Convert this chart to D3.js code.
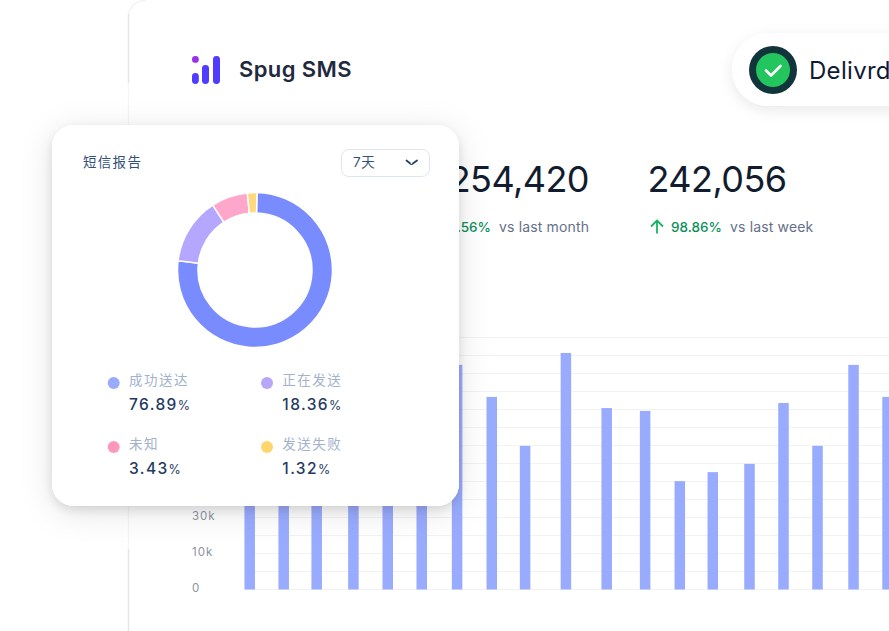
<!DOCTYPE html>
<html><head><meta charset="utf-8">
<script src="https://cdn.jsdelivr.net/npm/d3@7"></script>
<style>html,body{margin:0;padding:0;background:#fff;overflow:hidden}svg{display:block}
text{font-family:Inter,"Noto Sans CJK SC",sans-serif}</style></head>
<body><svg id="c" width="889" height="631"></svg>
<script>
// Bar series (the ones behind the card are estimates)
const barDays = [0,1,1.97,3.05,4.06,5.06,6.1,7.12,8.1,9.3,10.5,11.63,12.65,13.62,14.7,15.7,16.7,17.76,18.76];
const barValues = [48000,53500,39900,62400,50400,49600,62400,53500,39900,65700,50400,49600,30100,32600,34900,51800,39900,62400,53500];
const gridValues = d3.range(0,75000,5000);
const tickValues = [0,10000,20000];
const tickLabels = ["0","10k","30k"];
// Donut
const donutNames = ["成功送达","正在发送","未知","发送失败"];
const donutValues = [76.5,13.9,7.6,2];
const legendValues = ["76.89","18.36","3.43","1.32"];
const donutColors = ["#788bff","#b5a6ff","#ffa6cb","#ffd97d"];
const dotColors = ["#99abff","#b8a6fb","#ff97bd","#ffd56e"];

const svg = d3.select("#c");
const defs = svg.append("defs");
function shadow(id,dy,blur,op){
  const f=defs.append("filter").attr("id",id).attr("x","-30%").attr("y","-30%").attr("width","160%").attr("height","160%");
  f.append("feDropShadow").attr("dx",0).attr("dy",dy).attr("stdDeviation",blur).attr("flood-color","#000").attr("flood-opacity",op);
}
shadow("cardS",6,16,.11); shadow("cardN",4,5,.11); shadow("pillS",4,7,.09);

// main panel: crisp at both ends, faded where the card's shadow layer sits over it
const panelLine=(d,c)=>svg.append("path").attr("d",d).attr("fill","none").attr("stroke",c).attr("stroke-width",1.5);
panelLine("M128.5 83V14","#e6e6e6");
panelLine("M128.5 631V549","#e6e6e6");
panelLine("M128.5 549V83","#f5f5f5");
panelLine("M128.5 14Q131 2 146 0","#f2f2f2");

// logo
const logo = svg.append("g").attr("transform","translate(192,56)");
logo.append("circle").attr("cx",3.4).attr("cy",3.4).attr("r",3.4).attr("fill","#9a2ff0");
[[0,17,6.8],[10,9,7],[21,0,7]].forEach(b=>logo.append("rect").attr("x",b[0]).attr("y",b[1]).attr("width",b[2]).attr("height",28-b[1]).attr("rx",3.4).attr("fill","#4f3cff"));
svg.append("text").attr("x",239).attr("y",77).attr("font-size",22).attr("font-weight",600).attr("letter-spacing",.4).attr("fill","#1f2a3f").text("Spug SMS");

// pill
svg.append("rect").attr("x",732).attr("y",33).attr("width",240).attr("height",73).attr("rx",36.5).attr("fill","#fff").attr("filter","url(#pillS)");
svg.append("circle").attr("cx",773).attr("cy",70).attr("r",24).attr("fill","#12343b");
svg.append("circle").attr("cx",773).attr("cy",70).attr("r",17).attr("fill","#22c55e");
svg.append("path").attr("d","M766 70.5l5 5 9.5-9.5").attr("fill","none").attr("stroke","#fff").attr("stroke-width",2.6).attr("stroke-linecap","round").attr("stroke-linejoin","round");
svg.append("text").attr("x",809).attr("y",78.5).attr("font-size",24).attr("font-weight",400).attr("letter-spacing",.3).attr("fill","#0f1b33").text("Delivrd");

// stats
const big=(x,a,t)=>svg.append("text").attr("x",x).attr("y",192).attr("text-anchor",a).attr("font-size",36).attr("font-weight",400).attr("letter-spacing",-.55).attr("fill","#111c2e").text(t);
big(589,"end","254,420"); big(647.5,"start","242,056");
const pct=(x,a,t)=>svg.append("text").attr("x",x).attr("y",232).attr("text-anchor",a).attr("font-size",13.5).attr("font-weight",500).attr("fill","#0a8f5b").text(t);
const vs=(x,t)=>svg.append("text").attr("x",x).attr("y",232).attr("font-size",14).attr("letter-spacing",.15).attr("fill","#64708a").text(t);
pct(491,"end","98.56%"); vs(499,"vs last month");
pct(671,"start","98.86%"); vs(730,"vs last week");
svg.append("path").attr("d","M657 233.5V221M651 226.5l6-6 6 6").attr("fill","none").attr("stroke","#16b364").attr("stroke-width",1.8);

// bar chart
const y = d3.scaleLinear().domain([0,70000]).range([589.5,337.5]);
const x = d3.scaleLinear().domain([0,1]).range([249.7,283.7]);
const barW = 10.5;
svg.append("g").selectAll("line").data(gridValues).join("line")
  .attr("x1",x(0)-barW/2).attr("x2",889).attr("y1",d=>y(d)).attr("y2",d=>y(d))
  .attr("stroke","#f1f2f4").attr("stroke-width",1);
svg.append("g").selectAll("rect").data(barValues).join("rect")
  .attr("x",(d,i)=>x(barDays[i])-barW/2).attr("width",barW)
  .attr("y",d=>y(d)).attr("height",d=>y(0)-y(d)).attr("fill","#99abff");
const axis = d3.axisLeft(y).tickValues(tickValues).tickFormat((d,i)=>tickLabels[i]).tickSize(0);
const ax = svg.append("g").attr("transform","translate(192,-1.3)").call(axis);
ax.select(".domain").remove();
ax.selectAll("text").attr("x",0).attr("text-anchor","start").attr("font-size",11.5).attr("letter-spacing",1)
  .attr("fill","#8b93a3").style("font-family","Inter");

// card
const cardRect=(f)=>svg.append("rect").attr("x",52).attr("y",125).attr("width",407).attr("height",381).attr("rx",22).attr("fill","#fff").attr("filter",f);
cardRect("url(#cardS)"); cardRect("url(#cardN)");
svg.append("text").attr("x",83).attr("y",167).attr("font-size",13.5).attr("letter-spacing",1.3).attr("fill","#34507a").text("短信报告");
svg.append("rect").attr("x",341.5).attr("y",149.5).attr("width",88).attr("height",27).attr("rx",7.5).attr("fill","#fff").attr("stroke","#dfe5ef");
svg.append("text").attr("x",353).attr("y",167).attr("font-size",13.5).attr("letter-spacing",.5).attr("fill","#34507a").text("7天");
svg.append("path").attr("d","M406.5 160.5q5 4 5 3.6q0 .4 5.5-3.6").attr("fill","none").attr("stroke","#263f66").attr("stroke-width",1.8).attr("stroke-linecap","round");

// donut
const tilt = 1.5*Math.PI/180;
const pie = d3.pie().sort(null).startAngle(tilt).endAngle(2*Math.PI+tilt).value(d=>d)(donutValues);
const arc = d3.arc().innerRadius(57).outerRadius(77.5);
svg.append("g").attr("transform","translate(255,270)").selectAll("path").data(pie).join("path")
  .attr("d",arc).attr("fill",(d,i)=>donutColors[i]).attr("stroke","#fff").attr("stroke-width",1.5);

// legend
const colX = [113.7,267], rowY = [383,447];
donutNames.forEach((n,i)=>{
  const cx = colX[i%2], cy = rowY[Math.floor(i/2)], tx = cx+15.3;
  svg.append("circle").attr("cx",cx).attr("cy",cy).attr("r",6).attr("fill",dotColors[i]);
  svg.append("text").attr("x",tx).attr("y",cy+2).attr("font-size",13.5).attr("letter-spacing",1.5).attr("fill","#a3b2cb").text(n);
  const t = svg.append("text").attr("x",tx).attr("y",cy+27).attr("font-size",15.5).attr("font-weight",500).attr("letter-spacing",1.4).attr("fill","#1f3a63").text(legendValues[i]);
  t.append("tspan").attr("font-size",12.5).attr("font-weight",400).attr("letter-spacing",0).text("%");
});
</script></body></html>
